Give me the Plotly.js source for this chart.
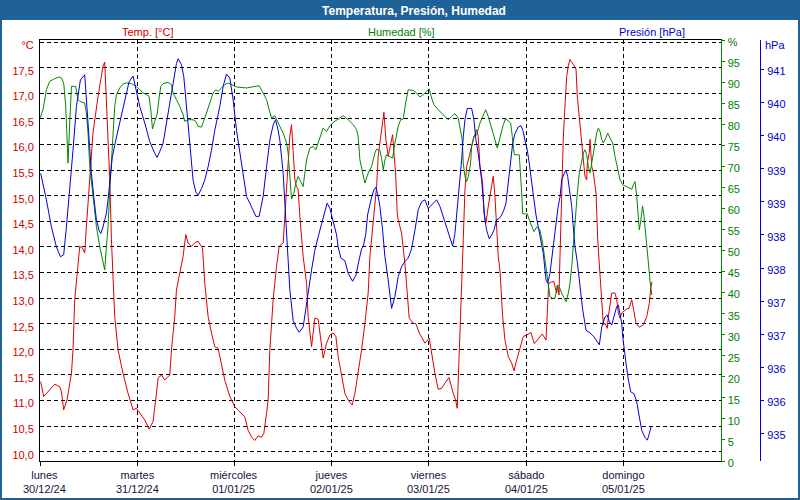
<!DOCTYPE html>
<html><head><meta charset="utf-8">
<script src="https://cdn.plot.ly/plotly-3.0.1.min.js"></script>
<style>html,body{margin:0;padding:0;background:#fff;}#chart{width:800px;height:500px;}</style>
</head><body><div id="chart"></div>
<script>
// ---- data (x = hours since Monday 30/12/24 00:00) ----
const dayTickHours = [0, 24, 48, 72, 96, 120, 144];
const dayNames = ["lunes", "martes", "miércoles", "jueves", "viernes", "sábado", "domingo"];
const dayDates = ["30/12/24", "31/12/24", "01/01/25", "02/01/25", "03/01/25", "04/01/25", "05/01/25"];

const tempTickVals = [10, 10.5, 11, 11.5, 12, 12.5, 13, 13.5, 14, 14.5, 15, 15.5, 16, 16.5, 17, 17.5, 18];
const tempTickText = ["10,0","10,5","11,0","11,5","12,0","12,5","13,0","13,5","14,0","14,5","15,0","15,5","16,0","16,5","17,0","17,5","°C"];
const humTickVals = [0,5,10,15,20,25,30,35,40,45,50,55,60,65,70,75,80,85,90,95,100];
const humTickText = ["0","5","10","15","20","25","30","35","40","45","50","55","60","65","70","75","80","85","90","95","%"];
const presTickVals = [935,935.5,936,936.5,937,937.5,938,938.5,939,939.5,940,940.5];
const presTickText = ["935","936","936","937","937","938","938","939","939","940","940","941"];

const tempHours = [
0.17,0.91,2.40,3.63,4.87,5.29,5.85,6.67,7.76,8.15,
8.57,9.14,9.81,10.47,11.04,11.46,12.28,13.09,14.33,15.56,
15.98,16.40,16.80,17.22,17.64,18.03,18.45,19.27,20.50,21.74,
22.97,23.81,24.63,25.86,26.93,27.91,28.75,29.15,29.99,30.80,
32.04,32.46,33.27,33.69,34.51,35.32,35.99,36.56,37.40,38.21,
39.03,40.12,40.68,41.50,42.34,43.15,43.97,44.81,45.62,46.86,
48.09,49.33,50.56,51.38,52.22,53.03,53.85,54.69,55.26,55.93,
56.32,56.74,57.56,58.40,59.04,60.03,60.45,60.87,61.26,61.68,
62.10,62.50,62.92,63.34,63.73,64.15,64.57,64.97,65.81,66.20,
67.04,67.44,67.86,68.67,69.26,69.91,70.75,71.56,72.38,73.04,
73.61,74.45,75.27,76.08,77.07,77.74,78.55,79.39,80.21,81.02,
81.44,82.26,83.10,83.49,84.33,84.90,85.39,85.96,86.63,87.05,
87.45,87.79,88.19,88.43,89.27,90.09,90.66,91.15,92.14,92.81,
93.62,95.03,96.09,96.68,97.50,98.31,99.15,99.97,100.96,102.02,
102.61,103.01,103.43,103.92,104.49,104.91,105.33,105.97,106.96,107.80,
108.19,108.61,109.28,109.60,110.10,110.66,111.50,111.90,112.32,112.74,
113.13,113.55,114.22,114.79,115.60,116.44,117.01,117.68,118.50,119.31,
120.15,121.21,122.03,123.01,124.00,124.92,125.24,125.59,126.33,126.90,
127.22,127.56,127.81,128.13,128.37,128.79,129.18,129.60,130.03,130.42,
130.84,131.66,132.33,132.65,133.14,133.56,133.98,134.30,134.55,134.97,
135.12,135.61,135.79,136.21,136.60,137.02,137.27,137.69,138.09,138.43,
138.83,139.07,139.49,140.06,140.31,140.73,141.15,141.96,142.38,142.78,
143.20,143.62,144.19,144.86,145.42,146.09,146.48,147.15,147.96,148.95,
149.79,150.43,150.78,151.10];
const tempValues = [
11.37,11.08,11.21,11.32,11.27,11.17,10.82,11.01,11.53,11.99,
12.97,13.49,14.01,13.98,13.88,14.40,15.31,16.23,16.94,17.53,
17.61,16.88,16.10,15.31,14.14,13.55,12.64,11.99,11.53,11.14,
10.82,10.85,10.75,10.62,10.44,10.59,11.14,11.44,11.50,11.40,
11.50,11.99,12.64,13.16,13.49,13.81,14.24,14.08,14.01,14.08,
14.11,13.98,13.29,12.64,12.32,12.05,12.02,11.73,11.40,11.08,
10.88,10.78,10.68,10.42,10.29,10.22,10.31,10.28,10.36,10.75,
11.01,11.99,12.97,13.62,14.01,14.08,14.66,15.12,15.71,16.16,
16.39,15.77,15.31,15.18,15.12,14.60,14.14,13.81,13.29,12.64,
12.05,12.32,12.61,12.59,12.18,11.83,12.12,12.28,12.32,12.25,
11.86,11.53,11.14,11.01,10.91,11.14,11.53,11.99,12.51,13.10,
13.81,14.53,15.18,15.77,16.29,16.63,16.10,15.77,16.03,16.19,
15.77,15.45,14.66,14.53,14.27,13.68,13.10,12.61,12.51,12.50,
12.32,12.12,12.22,11.92,11.53,11.22,11.24,11.34,11.45,11.14,
11.01,10.85,11.73,12.64,14.14,15.12,15.57,15.77,16.10,16.29,
16.16,15.57,15.25,14.66,14.47,14.79,15.18,15.38,14.99,14.40,
13.81,13.55,12.64,12.18,11.86,11.73,11.58,11.79,12.05,12.25,
12.28,12.33,12.11,12.20,12.30,12.18,12.64,13.29,13.32,13.32,
13.20,13.10,13.24,13.06,13.81,15.12,16.10,16.75,17.33,17.53,
17.66,17.56,17.47,16.94,16.49,16.10,15.84,15.57,15.38,15.31,
15.64,15.84,16.10,15.57,15.45,15.18,15.05,14.14,13.62,13.16,
12.64,12.48,12.51,12.41,12.64,12.84,13.10,13.10,12.97,12.71,
12.61,12.71,12.74,12.79,12.80,12.97,12.80,12.51,12.43,12.48,
12.64,12.90,13.20,13.32];

const humHours = [
0.05,0.74,1.58,2.40,3.63,4.69,5.29,5.85,6.35,6.92,
7.34,7.76,8.82,9.39,9.81,11.04,11.46,11.86,12.28,13.09,
13.93,14.75,15.56,15.98,16.40,16.80,17.22,17.64,18.03,18.45,
18.87,19.69,20.50,21.34,22.58,23.81,24.63,25.44,26.28,26.93,
27.35,27.77,28.33,28.90,29.40,29.82,30.38,31.62,32.46,32.85,
33.69,34.51,35.32,35.74,36.56,37.79,38.46,39.03,39.87,40.44,
41.10,41.92,42.73,43.40,43.97,44.81,45.62,46.44,47.28,48.52,
50.99,52.62,54.10,55.09,55.93,56.57,57.16,57.98,58.40,59.21,
60.03,60.87,61.26,61.51,61.85,62.10,62.67,63.16,63.73,64.15,
64.57,64.97,65.39,65.81,66.62,67.44,68.10,68.67,69.26,69.91,
70.75,71.56,72.38,73.61,74.85,76.08,77.32,78.16,78.55,78.97,
79.79,80.21,81.02,81.86,82.68,83.10,83.91,84.33,84.73,85.15,
85.57,86.38,87.05,87.62,88.04,88.43,89.03,89.67,90.26,90.90,
92.14,92.98,93.79,94.61,95.45,96.09,96.68,97.25,98.31,99.55,
100.78,101.62,102.44,103.25,103.85,104.24,104.49,104.91,105.33,105.73,
106.27,106.56,107.13,107.80,108.61,109.43,110.02,110.66,111.50,112.32,
112.89,113.55,114.37,114.96,115.60,116.20,116.60,117.09,118.32,118.67,
118.92,119.16,120.30,120.97,121.95,122.62,123.44,124.10,124.67,125.09,
125.49,125.90,126.57,127.14,127.71,128.20,128.80,129.37,129.86,130.42,
130.84,131.27,131.66,132.08,132.65,133.14,133.56,134.13,134.55,134.97,
135.37,135.79,136.21,136.60,137.02,137.44,137.84,138.26,138.68,139.07,
139.67,140.16,140.73,141.39,141.96,142.53,143.20,143.86,144.86,146.09,
146.48,146.90,147.32,147.72,147.96,148.31,148.76,149.13,149.62,150.19,
150.61,151.03];
const humValues = [
81.56,83.46,88.22,90.19,90.84,91.24,91.00,89.81,84.25,70.77,
80.29,89.00,89.00,85.84,85.43,85.05,82.67,77.91,69.97,63.64,
55.69,50.93,47.76,45.38,50.93,55.69,64.42,71.56,79.49,84.25,
87.03,88.62,89.58,89.81,89.65,89.00,88.22,87.43,87.03,86.62,
83.46,78.87,80.68,82.27,86.24,89.00,89.65,89.96,89.41,87.43,
85.84,84.25,82.27,80.68,81.08,81.08,80.68,79.49,79.34,80.68,
82.67,85.05,87.43,88.22,87.82,88.62,89.41,89.81,89.41,88.86,
88.62,88.86,89.17,87.43,85.84,83.46,81.48,82.03,81.08,79.49,
77.91,75.54,73.15,69.18,65.21,62.21,63.64,66.02,67.59,66.80,
66.02,65.21,68.40,71.56,74.35,74.73,73.94,75.54,77.11,79.10,
78.30,79.65,80.44,81.25,82.03,81.08,79.89,78.70,77.11,71.56,
67.59,66.02,68.40,69.97,73.15,74.11,73.77,71.96,69.18,71.56,
72.75,72.35,71.96,75.54,77.91,79.49,81.08,81.25,85.05,88.22,
88.05,87.43,86.48,87.03,87.82,88.39,86.24,84.65,83.46,82.27,
81.08,81.86,82.51,81.48,78.70,76.32,70.77,67.59,66.40,67.59,
70.37,74.73,77.11,77.51,80.29,82.27,83.46,81.86,78.70,76.32,
74.35,77.11,79.89,81.32,80.84,80.29,77.11,72.75,72.75,68.40,
63.64,58.71,58.71,56.81,54.50,55.62,54.90,51.74,47.76,44.60,
42.22,39.03,38.65,38.65,41.81,41.41,39.84,38.65,37.84,39.84,
42.22,46.17,51.74,55.69,63.64,68.40,70.77,73.15,73.94,72.75,
69.97,68.40,70.77,73.15,75.54,77.91,79.10,78.30,76.32,75.54,
76.72,77.91,76.72,75.54,72.35,69.97,66.80,65.61,65.21,64.59,
65.61,66.40,62.83,58.88,54.90,57.04,60.61,58.07,52.52,47.76,
42.77,39.43];

const presHours = [
0.17,1.58,2.82,4.05,5.04,5.85,6.52,7.34,8.15,8.99,
9.98,11.04,11.46,12.10,12.70,13.27,13.93,14.57,14.99,15.56,
16.40,16.80,17.22,17.86,18.70,19.69,20.92,21.98,22.97,23.81,
24.63,25.86,27.10,28.33,28.90,29.57,30.38,31.22,32.04,32.85,
33.69,34.09,34.93,35.50,36.16,36.98,37.79,38.46,39.03,39.87,
40.68,41.50,42.34,43.15,44.39,45.20,46.04,46.86,47.68,48.52,
49.33,50.15,50.99,51.80,52.62,53.28,54.10,54.69,55.09,55.93,
56.74,57.56,58.15,58.79,59.21,60.03,60.45,60.87,61.26,61.68,
62.50,63.34,63.98,64.97,65.81,66.20,67.04,67.86,68.67,69.51,
70.33,70.89,71.56,72.38,73.22,73.61,74.28,75.27,76.08,77.17,
77.99,78.55,79.39,79.79,80.45,80.87,81.44,81.86,82.43,82.92,
83.49,83.91,84.58,85.15,85.96,86.80,87.62,88.43,89.27,90.09,
90.90,91.74,92.56,93.37,94.21,95.03,95.84,96.68,97.92,98.74,
99.55,100.39,101.20,101.87,102.44,102.86,103.25,103.67,104.09,104.49,
104.91,105.48,106.56,107.13,107.63,108.19,108.61,109.03,109.43,109.85,
110.27,110.91,111.50,112.07,112.74,113.38,113.97,114.54,115.04,115.46,
115.85,116.20,116.69,117.26,118.08,118.74,119.31,119.73,120.30,120.79,
121.39,121.95,122.45,123.02,123.61,124.25,124.92,125.34,125.90,126.57,
127.14,127.88,128.37,128.79,129.44,129.86,130.28,130.68,131.27,131.66,
132.08,132.65,133.32,133.98,134.80,135.79,136.78,138.09,138.68,139.49,
140.06,140.55,141.15,141.72,142.38,142.78,143.20,143.62,143.86,144.19,
144.68,145.25,145.84,146.66,147.32,147.96,148.55,149.37,149.94,150.43,
150.85];
const presValues = [
938.93,938.53,938.12,937.82,937.67,937.70,938.12,938.68,939.28,939.94,
940.34,940.42,940.04,939.43,938.93,938.58,938.23,938.07,938.02,938.12,
938.33,938.53,938.83,939.18,939.43,939.69,940.04,940.31,940.40,940.19,
939.94,939.69,939.41,939.23,939.17,939.26,939.38,939.69,939.99,940.29,
940.59,940.66,940.57,940.39,939.94,939.43,938.83,938.65,938.60,938.70,
938.83,939.03,939.28,939.58,939.94,940.24,940.43,940.37,940.04,939.58,
939.23,938.93,938.58,938.48,938.38,938.28,938.28,938.43,938.58,939.03,
939.43,939.66,939.74,939.58,939.43,938.93,938.53,938.02,937.62,937.17,
936.71,936.59,936.53,936.61,936.92,937.12,937.47,937.77,937.97,938.15,
938.33,938.48,938.40,938.21,938.00,937.82,937.65,937.61,937.42,937.30,
937.39,937.56,937.79,937.82,938.02,938.30,938.48,938.57,938.68,938.72,
938.58,938.43,938.07,937.67,937.32,936.89,937.07,937.37,937.52,937.60,
937.65,937.79,938.07,938.38,938.50,938.53,938.40,938.45,938.53,938.43,
938.28,938.12,937.97,937.83,938.02,938.28,938.53,938.83,939.13,939.48,
939.74,939.91,939.91,939.74,939.43,939.23,939.03,938.83,938.53,938.23,
938.07,937.94,938.00,938.07,938.23,938.25,938.30,938.38,938.48,938.73,
938.93,939.18,939.38,939.53,939.63,939.65,939.56,939.43,939.28,939.08,
938.83,938.53,938.30,938.12,937.92,937.72,937.32,937.27,937.42,937.77,
938.07,938.41,938.57,938.83,938.93,938.98,938.88,938.72,938.43,938.12,
937.82,937.59,937.21,936.87,936.56,936.52,936.46,936.34,936.61,936.76,
936.79,936.69,936.64,936.79,936.92,936.94,936.79,936.66,936.46,936.26,
936.06,935.81,935.63,935.60,935.48,935.25,935.05,934.94,934.90,935.00,
935.10];

// ---- styling ----
const RED = "#dd0000", GREEN = "#008800", BLUE = "#0000dd";
const RED_T = "#cc0000", GREEN_T = "#008000", BLUE_T = "#0000cc";
const FONT = "Liberation Sans, Arial, sans-serif";
const W = 800, H = 500, ML = 40, MR = 38, MT = 40, MB = 39;
const PW = W - ML - MR, PH = H - MT - MB;
const px = v => (v - ML) / PW;          // pixel -> paper x
const py = v => (H - MB - v) / PH;      // pixel -> paper y

const traces = [
  {x: tempHours, y: tempValues, yaxis: "y", type: "scatter", mode: "lines",
   line: {color: RED, width: 1}, hoverinfo: "skip"},
  {x: humHours, y: humValues, yaxis: "y2", type: "scatter", mode: "lines",
   line: {color: GREEN, width: 1}, hoverinfo: "skip"},
  {x: presHours, y: presValues, yaxis: "y3", type: "scatter", mode: "lines",
   line: {color: BLUE, width: 1}, hoverinfo: "skip"}
];

const annotations = [
  {text: "Temp. [°C]", x: px(147), y: py(31.5), xref: "paper", yref: "paper", showarrow: false,
   xanchor: "center", yanchor: "middle", font: {family: FONT, size: 11, color: RED_T}},
  {text: "Humedad [%]", x: px(401), y: py(31.5), xref: "paper", yref: "paper", showarrow: false,
   xanchor: "center", yanchor: "middle", font: {family: FONT, size: 11, color: GREEN_T}},
  {text: "Presión [hPa]", x: px(652), y: py(31.5), xref: "paper", yref: "paper", showarrow: false,
   xanchor: "center", yanchor: "middle", font: {family: FONT, size: 11, color: BLUE_T}},
  {text: "hPa", x: px(763), y: py(45), xref: "paper", yref: "paper", showarrow: false,
   xanchor: "left", yanchor: "middle", font: {family: FONT, size: 11, color: BLUE_T}}
];
dayTickHours.forEach((h, i) => {
  annotations.push({text: dayNames[i] + "<br>" + dayDates[i], x: h, xref: "x", y: py(482), yref: "paper",
    showarrow: false, xanchor: "center", yanchor: "middle", xshift: i === 0 ? 4 : 0,
    font: {family: FONT, size: 11, color: "#141438"}});
});

const layout = {
  width: W, height: H,
  margin: {l: ML, r: MR, t: MT, b: MB, pad: 0},
  paper_bgcolor: "#1f6298", plot_bgcolor: "#ffffff",
  separators: ",.",
  showlegend: false,
  font: {family: FONT, size: 11},
  title: {text: "<b>Temperatura, Presión, Humedad</b>", x: 414 / W, xref: "container", xanchor: "center",
          y: 1 - 10.5 / H, yref: "container", yanchor: "middle",
          font: {family: FONT, size: 12, color: "#ffffff"}},
  shapes: [
    {type: "rect", xref: "paper", yref: "paper", x0: px(2), x1: px(798), y0: py(498), y1: py(20),
     fillcolor: "#ffffff", line: {width: 0}, layer: "below"}
  ],
  xaxis: {
    domain: [0, (720.5 - ML) / PW], range: [0, 168],
    tickmode: "array", tickvals: dayTickHours, showticklabels: false,
    ticks: "outside", ticklen: 4, tickcolor: "#000", tickwidth: 1,
    showgrid: true, gridcolor: "#000", gridwidth: 1, griddash: "4px,3px",
    showline: true, linecolor: "#000", linewidth: 1, mirror: true, zeroline: false, fixedrange: true
  },
  yaxis: {
    range: [9.82, 18.04], tickmode: "array", tickvals: tempTickVals, ticktext: tempTickText,
    ticks: "", ticklabelstandoff: 3, ticklabelshift: 3,
    tickfont: {family: FONT, size: 11, color: RED_T},
    showgrid: true, gridcolor: "#000", gridwidth: 1, griddash: "4px,3px",
    showline: true, linecolor: "#000", linewidth: 1, zeroline: false, fixedrange: true
  },
  yaxis2: {
    overlaying: "y", side: "right", anchor: "x", range: [0, 100.02],
    tickmode: "array", tickvals: humTickVals, ticktext: humTickText,
    ticks: "outside", ticklen: 3, tickcolor: GREEN, ticklabelstandoff: 1, ticklabelshift: 2,
    tickfont: {family: FONT, size: 11, color: GREEN_T},
    showgrid: false, showline: true, linecolor: GREEN, linewidth: 1, zeroline: false, fixedrange: true
  },
  yaxis3: {
    overlaying: "y", side: "right", anchor: "free", position: (760 - ML) / PW,
    range: [934.585, 940.944],
    tickmode: "array", tickvals: presTickVals, ticktext: presTickText,
    ticks: "outside", ticklen: 3, tickcolor: BLUE, ticklabelstandoff: 1, ticklabelshift: 2,
    tickfont: {family: FONT, size: 11, color: BLUE_T},
    showgrid: false, showline: true, linecolor: BLUE, linewidth: 1, zeroline: false, fixedrange: true
  },
  annotations: annotations
};

Plotly.newPlot("chart", traces, layout, {staticPlot: true, displayModeBar: false});
</script>
</body></html>
